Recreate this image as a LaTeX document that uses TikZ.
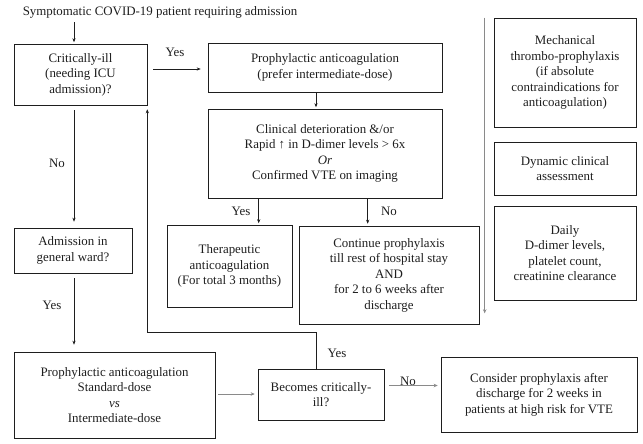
\documentclass[tikz,border=0pt]{standalone}
\usepackage{fontspec}
\setmainfont{Liberation Serif}
\usetikzlibrary{calc,arrows.meta}
\definecolor{ink}{HTML}{1E1E1E}
\definecolor{garrow}{HTML}{8A8A8A}
\begin{document}
\begin{tikzpicture}[x=1pt,y=-1pt,
  every node/.style={font=\fontsize{12.9}{15.5}\selectfont, text=ink},
  box/.style={draw=ink, line width=0.6pt, align=center, inner sep=0pt},
  lbl/.style={inner sep=0pt},
  arr/.style={draw=ink, line width=0.5pt, -{Stealth[length=4pt,width=3.2pt]}},
  garr/.style={draw=garrow, line width=1pt, -{Stealth[length=4pt,width=3.5pt]}}]
\useasboundingbox (0,0) rectangle (643,444);
% title
\node[lbl] (title) at (160,12) {Symptomatic COVID-19 patient requiring admission};
% boxes
\node[box, minimum width=133pt, minimum height=61pt] (crit) at (80.5,74.5) {Critically-ill\\(needing ICU\\admission)?};
\node[box, minimum width=234pt, minimum height=49pt] (proph) at (325,67.5) {Prophylactic anticoagulation\\(prefer intermediate-dose)};
\node[box, minimum width=234pt, minimum height=89pt] (clin) at (325,153.5) {Clinical deterioration \&/or\\Rapid ↑ in D-dimer levels > 6x\\\textit{Or}\\Confirmed VTE on imaging};
\node[box, minimum width=125pt, minimum height=82pt] (ther) at (229.5,266) {Therapeutic\\anticoagulation\\(For total 3 months)};
\node[box, minimum width=180pt, minimum height=98pt] (cont) at (389,275) {Continue prophylaxis\\till rest of hospital stay\\AND\\for 2 to 6 weeks after\\discharge};
\node[box, minimum width=142pt, minimum height=109pt] (mech) at (565,72.5) {Mechanical\\thrombo-prophylaxis\\(if absolute\\contraindications for\\anticoagulation)};
\node[box, minimum width=142pt, minimum height=53pt] (dyn) at (565,168.5) {Dynamic clinical\\assessment};
\node[box, minimum width=142pt, minimum height=94pt] (daily) at (565,253) {Daily\\D-dimer levels,\\platelet count,\\creatinine clearance};
\node[box, minimum width=118pt, minimum height=45pt] (adm) at (73,250.5) {Admission in\\general ward?};
\node[box, minimum width=201pt, minimum height=86pt] (std) at (114.5,395) {Prophylactic anticoagulation\\Standard-dose\\\textit{vs}\\Intermediate-dose};
\node[box, minimum width=126pt, minimum height=51pt] (bec) at (321,394.5) {Becomes critically-\\ill?};
\node[box, minimum width=196pt, minimum height=75pt] (cons) at (539,394.5) {Consider prophylaxis after\\discharge for 2 weeks in\\patients at high risk for VTE};
% labels
\node[lbl] (l1) at (175,52) {Yes};
\node[lbl] (l2) at (57,163) {No};
\node[lbl] (l3) at (52,305) {Yes};
\node[lbl] (l4) at (241,211) {Yes};
\node[lbl] (l5) at (389,211) {No};
\node[lbl] (l6) at (337,353) {Yes};
\node[lbl] (l7) at (408,381) {No};
% helper coordinates
\coordinate (cy) at ($(clin.south west)+(51,0)$);
\coordinate (cn) at ($(clin.south west)+(160,0)$);
% connectors
\draw[arr] ($(title.south -| adm)+(1,4)$) -- ($(crit.north -| adm)+(1,-1.5)$);
\draw[arr] ($(crit.east |- proph.west)+(6,1.5)$) -- ($(proph.west)+(-7,1.5)$);
\draw[arr] ($(proph.south)+(-9,0)$) -- ($(clin.north)+(-9,-1.5)$);
\draw[arr] (cy) -- ($(cy |- ther.north)+(0,-1.5)$);
\draw[arr] (cn) -- ($(cn |- cont.north)+(0,-2)$);
\draw[arr] ($(crit.south -| adm)+(1,5)$) -- ($(adm.north)+(1,-6)$);
\draw[arr] ($(adm.south)+(1,5)$) -- ($(std.north -| adm)+(1,-7)$);
\draw[arr] ($(bec.north west)+(59,0)$) -- ++(0,-36) -| ($(crit.south east)+(0,4)$);
\draw[garr] ($(std.east)+(3,-1)$) -- ($(bec.west |- std.east)+(-3,-1)$);
\draw[garr] ($(bec.east)+(5,-9)$) -- ($(cons.west |- bec.east)+(-3,-9)$);
\draw[garr] ($(mech.north west)+(-9,0)$) -- ($(daily.south west)+(-9,13)$);
\end{tikzpicture}
\end{document}
